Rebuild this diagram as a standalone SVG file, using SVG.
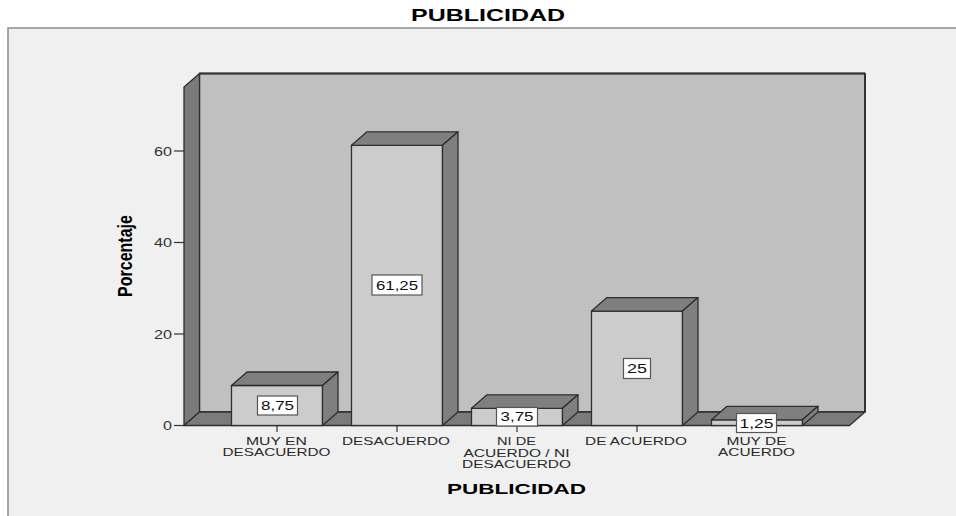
<svg xmlns="http://www.w3.org/2000/svg" width="956" height="516" viewBox="0 0 956 516">
<style>
text{font-family:"Liberation Sans",Arial,sans-serif;fill:#2a2a2a}
.wall{fill:#7b7b7b;stroke:#2e2e2e;stroke-width:1.3;stroke-linejoin:round}
.back{fill:#c0c0c0;stroke:#2e2e2e;stroke-width:1.3}
.front{fill:#cccccc;stroke:#2e2e2e;stroke-width:1.3}
.dark{fill:#7f7f7f;stroke:#2e2e2e;stroke-width:1.3;stroke-linejoin:round}
.lbox{fill:#ffffff;stroke:#555;stroke-width:1.2}
.val{font-size:12px;text-anchor:middle;fill:#111}
.tick{stroke:#333;stroke-width:1.2}
.tl{font-size:12px;text-anchor:end;fill:#333}
.cat{font-size:11.5px;text-anchor:middle}
.ttl{font-weight:bold;text-anchor:middle;fill:#000}
</style>
<rect x="0" y="0" width="956" height="516" fill="#ffffff"/>
<rect x="8" y="28" width="970" height="510" fill="#f0f0f0" stroke="#8c8c8c" stroke-width="1.5"/>
<text class="ttl" x="488" y="20.5" font-size="17" textLength="154" lengthAdjust="spacingAndGlyphs">PUBLICIDAD</text>
<g id="chart-frame">
<polygon class="back" points="199.5,73.5 865,73.5 865,412 199.5,412"/>
<line x1="199.5" y1="73.5" x2="865" y2="73.5" stroke="#333" stroke-width="2"/>
<line x1="865" y1="73.5" x2="865" y2="412" stroke="#333" stroke-width="2"/>
<polygon class="wall" points="184,87 199.5,73.5 199.5,412 184,425.5"/>
<polygon class="wall" points="184,425.5 199.5,412 865,412 849.5,425.5"/>
</g>
<g id="y-axis">
<line class="tick" x1="174" y1="425.5" x2="184" y2="425.5"/>
<line class="tick" x1="174" y1="334" x2="184" y2="334"/>
<line class="tick" x1="174" y1="242.5" x2="184" y2="242.5"/>
<line class="tick" x1="174" y1="151" x2="184" y2="151"/>
<text class="tl" x="172" y="430" textLength="9" lengthAdjust="spacingAndGlyphs">0</text>
<text class="tl" x="172" y="338.5" textLength="18" lengthAdjust="spacingAndGlyphs">20</text>
<text class="tl" x="172" y="247" textLength="18" lengthAdjust="spacingAndGlyphs">40</text>
<text class="tl" x="172" y="155.5" textLength="18" lengthAdjust="spacingAndGlyphs">60</text>
<text class="ttl" font-size="16" transform="translate(131.5,256) rotate(-90) scale(1,1.3)">Porcentaje</text>
</g>
<g id="bar-muy-en-desacuerdo">
<rect class="front" x="231.5" y="385.5" width="91" height="40"/>
<polygon class="dark" points="231.5,385.5 247,372 338,372 322.5,385.5"/>
<polygon class="dark" points="322.5,385.5 338,372 338,412 322.5,425.5"/>
</g>
<g id="bar-desacuerdo">
<rect class="front" x="351.5" y="145.3" width="91" height="280.2"/>
<polygon class="dark" points="351.5,145.3 367,131.8 458,131.8 442.5,145.3"/>
<polygon class="dark" points="442.5,145.3 458,131.8 458,412 442.5,425.5"/>
</g>
<g id="bar-ni">
<rect class="front" x="471.5" y="408.3" width="91" height="17.2"/>
<polygon class="dark" points="471.5,408.3 487,394.8 578,394.8 562.5,408.3"/>
<polygon class="dark" points="562.5,408.3 578,394.8 578,412 562.5,425.5"/>
</g>
<g id="bar-de-acuerdo">
<rect class="front" x="591.5" y="311.1" width="91" height="114.4"/>
<polygon class="dark" points="591.5,311.1 607,297.6 698,297.6 682.5,311.1"/>
<polygon class="dark" points="682.5,311.1 698,297.6 698,412 682.5,425.5"/>
</g>
<g id="bar-muy-de-acuerdo">
<rect class="front" x="711.5" y="419.8" width="91" height="5.7"/>
<polygon class="dark" points="711.5,419.8 727,406.3 818,406.3 802.5,419.8"/>
<polygon class="dark" points="802.5,419.8 818,406.3 818,412 802.5,425.5"/>
</g>
<g id="x-ticks">
<line class="tick" x1="277" y1="425.5" x2="277" y2="432"/>
<line class="tick" x1="397" y1="425.5" x2="397" y2="432"/>
<line class="tick" x1="517" y1="425.5" x2="517" y2="432"/>
<line class="tick" x1="637" y1="425.5" x2="637" y2="432"/>
<line class="tick" x1="757" y1="425.5" x2="757" y2="432"/>
</g>
<g id="value-labels">
<rect class="lbox" x="257.5" y="396" width="40" height="19"/>
<text class="val" x="277.5" y="410" textLength="33" lengthAdjust="spacingAndGlyphs">8,75</text>
<rect class="lbox" x="372" y="275" width="50" height="20"/>
<text class="val" x="397" y="289.5" textLength="42" lengthAdjust="spacingAndGlyphs">61,25</text>
<rect class="lbox" x="496.5" y="407.5" width="41" height="18.5"/>
<text class="val" x="517" y="421" textLength="33" lengthAdjust="spacingAndGlyphs">3,75</text>
<rect class="lbox" x="623.5" y="358.5" width="27" height="20"/>
<text class="val" x="637" y="373" textLength="20" lengthAdjust="spacingAndGlyphs">25</text>
<rect class="lbox" x="736.5" y="413.5" width="40" height="19"/>
<text class="val" x="756.5" y="427.5" textLength="34" lengthAdjust="spacingAndGlyphs">1,25</text>
</g>
<g id="category-labels">
<text class="cat" x="276.5" y="444.5" textLength="61" lengthAdjust="spacingAndGlyphs">MUY EN</text>
<text class="cat" x="276.5" y="456" textLength="108" lengthAdjust="spacingAndGlyphs">DESACUERDO</text>
<text class="cat" x="396" y="444.5" textLength="108" lengthAdjust="spacingAndGlyphs">DESACUERDO</text>
<text class="cat" x="516.5" y="444.5" textLength="39" lengthAdjust="spacingAndGlyphs">NI DE</text>
<text class="cat" x="516.5" y="456.5" textLength="106" lengthAdjust="spacingAndGlyphs">ACUERDO / NI</text>
<text class="cat" x="516.5" y="468" textLength="109" lengthAdjust="spacingAndGlyphs">DESACUERDO</text>
<text class="cat" x="636" y="444.5" textLength="102" lengthAdjust="spacingAndGlyphs">DE ACUERDO</text>
<text class="cat" x="756.5" y="444.5" textLength="60" lengthAdjust="spacingAndGlyphs">MUY DE</text>
<text class="cat" x="756.5" y="456" textLength="77" lengthAdjust="spacingAndGlyphs">ACUERDO</text>
</g>
<text class="ttl" x="516.5" y="493.5" font-size="15.5" textLength="139" lengthAdjust="spacingAndGlyphs">PUBLICIDAD</text>
</svg>
